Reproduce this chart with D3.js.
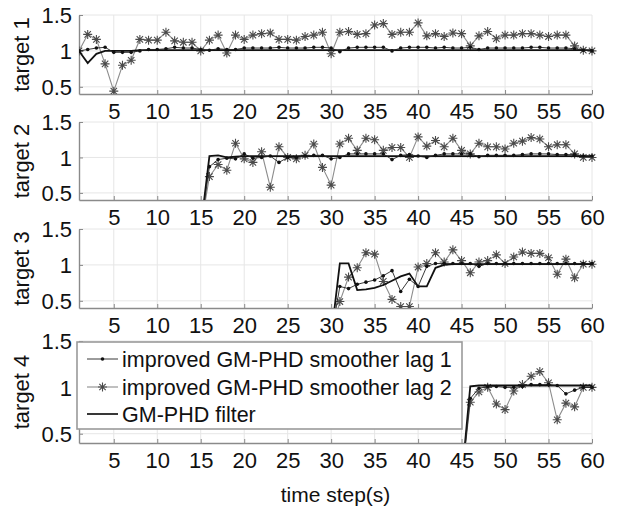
<!DOCTYPE html>
<html>
<head>
<meta charset="utf-8">
<script src="https://cdn.jsdelivr.net/npm/d3@7"></script>
<style>
  body { margin: 0; background: #fff; }
  text { font-family: "Liberation Sans", Arial, sans-serif; fill: #111; }
</style>
</head>
<body>
<div id="chart"></div>
<script>
// ---- data ----
const xTicks = [5, 10, 15, 20, 25, 30, 35, 40, 45, 50, 55, 60];
const yTicks = [0.5, 1, 1.5];
const legendNames = ["improved GM-PHD smoother lag 1", "improved GM-PHD smoother lag 2", "GM-PHD filter"];
const targetNames = ["target 1", "target 2", "target 3", "target 4"];

// first time step of each target's series
const targetStart = [1, 15, 30, 45];

const t1Lag1 = [1.0,1.02,1.04,1.05,0.98,0.98,0.98,1.0,1.02,1.02, 1.03,1.05,1.04,1.04,1.02,1.01,1.03,1.02,1.02,1.04,
  1.04,1.04,1.04,1.05,1.04,1.04,1.04,1.05,1.05,1.04, 0.99,1.04,1.05,1.05,1.05,1.05,1.0,1.04,1.05,1.05,
  1.05,1.04,1.05,1.04,1.04,1.05,1.02,1.04,1.04,1.04, 1.04,1.04,1.05,1.05,1.04,1.04,1.04,1.03,1.01,1.0];
const t1Lag2 = [1.0,1.23,1.16,0.82,0.44,0.80,0.87,1.16,1.15,1.15, 1.26,1.14,1.12,1.12,1.0,1.15,1.22,0.97,1.22,1.16,
  1.22,1.24,1.25,1.16,1.16,1.15,1.20,1.22,1.26,0.96, 1.26,1.27,1.23,1.24,1.36,1.38,1.23,1.26,1.26,1.39,
  1.21,1.24,1.20,1.25,1.24,1.07,1.21,1.27,1.17,1.22, 1.22,1.24,1.24,1.22,1.20,1.22,1.22,1.07,1.01,1.0];
const t1Filt = [1.0,0.83,0.96,1.0,1.0,1.0,1.0,1.01,1.01,1.01, 1.01,1.01,1.01,1.01,1.01,1.01,1.01,1.01,1.01,1.01,
  1.01,1.01,1.01,1.01,1.01,1.01,1.01,1.01,1.01,1.01, 1.01,1.01,1.01,1.01,1.01,1.01,1.01,1.01,1.01,1.01,
  1.01,1.01,1.01,1.01,1.01,1.01,1.01,1.01,1.01,1.01, 1.01,1.01,1.01,1.01,1.01,1.01,1.01,1.01,1.01,1.01];

const t2Lag1 = [0, 0.87,0.97,0.99,0.98,1.05,0.99,1.0,1.02,0.93,1.0, 1.0,1.02,1.03,1.03,0.98,1.0,1.05,1.05,1.05,1.05,
  1.05,0.97,1.03,1.04,1.02,1.0,1.03,1.05,1.05,1.05, 1.05,1.01,1.03,1.03,1.03,1.03,1.04,1.05,1.05,1.05,
  1.04,1.04,1.04,1.02,1.02];
const t2Lag2 = [0, 0.73,0.90,0.82,1.20,0.98,0.93,1.08,0.58,1.15,1.00, 0.98,1.03,1.19,0.86,0.61,1.19,1.27,1.10,1.27,1.25,
  1.10,1.14,1.14,1.0,1.29,1.16,1.24,1.15,1.27,1.10, 1.05,1.20,1.15,1.15,1.12,1.20,1.23,1.28,1.26,1.15,
  1.18,1.18,1.05,1.0,1.0];
const t2Filt = [0, 1.02,1.03,1.0,1.01,1.02,1.02,1.02,1.02,1.02,1.02, 1.02,1.02,1.02,1.02,1.02,1.02,1.02,1.02,1.02,1.02,
  1.02,1.02,1.02,1.02,1.02,1.02,1.02,1.02,1.02,1.02, 1.02,1.02,1.02,1.02,1.02,1.02,1.02,1.02,1.02,1.02,
  1.02,1.02,1.02,1.02,1.02];

const t3Lag1 = [0, 0.70,0.67,0.73,0.76,0.79,0.85,0.92,0.63,0.80,0.70, 0.98,1.02,1.02,1.02,1.02,1.02,0.98,1.02,1.02,1.02,
  1.02,1.02,1.02,1.02,1.02,1.02,1.02,1.02,1.02,1.02];
const t3Lag2 = [0, 0.49,0.83,0.96,1.17,1.15,0.77,0.52,0.42,0.42,0.97, 1.02,1.17,1.04,1.21,1.06,0.89,1.04,1.06,1.14,1.02,
  1.11,1.18,1.16,1.16,1.10,0.87,1.08,0.82,1.01,1.01];
const t3Filt = [0, 1.02,1.02,0.65,0.66,0.68,0.72,0.78,0.84,0.88,0.70, 0.70,0.96,1.0,1.01,1.01,1.01,1.01,1.01,1.01,1.01,
  1.01,1.01,1.01,1.01,1.01,1.01,1.01,1.01,1.01,1.01];

const t4Lag1 = [0, 0.88,0.99,1.01,1.01,1.0,1.0,1.01,1.03,1.03,1.03, 1.02,0.93,0.97,1.0,1.0];
const t4Lag2 = [0, 0.84,0.95,1.0,0.82,0.76,0.96,1.03,1.12,1.17,1.05, 0.65,0.83,0.79,1.0,1.0];
const t4Filt = [0, 1.01,1.02,1.02,1.02,1.02,1.02,1.02,1.02,1.02,1.02, 1.02,1.02,1.02,1.02,1.02];

const lag1Data = [t1Lag1, t2Lag1, t3Lag1, t4Lag1];
const lag2Data = [t1Lag2, t2Lag2, t3Lag2, t4Lag2];
const filtData = [t1Filt, t2Filt, t3Filt, t4Filt];

// ---- layout ----
const width = 620, height = 511;
const left = 79, right = 592;
const panels = [
  { top: 15,  bottom: 94 },
  { top: 122, bottom: 200 },
  { top: 229, bottom: 308 },
  { top: 341, bottom: 443 }
];

const svg = d3.select("#chart").append("svg")
  .attr("width", width)
  .attr("height", height);

const x = d3.scaleLinear().domain([1, 60]).range([left, right]);

const starPath = "M-4.5,0H4.5M0,-4.5V4.5M-3.2,-3.2L3.2,3.2M-3.2,3.2L3.2,-3.2";

function toPoints(arr, start) {
  return arr.map((v, i) => ({ k: start + i, v: v }));
}

panels.forEach((p, idx) => {
  const y = d3.scaleLinear().domain([0.4, 1.5]).range([p.bottom, p.top]);
  const g = svg.append("g");

  // grid
  g.append("g").selectAll("line").data(xTicks).enter().append("line")
    .attr("x1", d => x(d)).attr("x2", d => x(d))
    .attr("y1", p.top).attr("y2", p.bottom)
    .attr("stroke", "#e6e6e6").attr("stroke-width", 1);
  g.append("g").selectAll("line").data(yTicks).enter().append("line")
    .attr("x1", left).attr("x2", right)
    .attr("y1", d => y(d)).attr("y2", d => y(d))
    .attr("stroke", "#e6e6e6").attr("stroke-width", 1);

  // axes
  const xAxis = g.append("g")
    .attr("transform", `translate(0,${p.bottom})`)
    .call(d3.axisBottom(x).tickValues(xTicks).tickSizeInner(-4).tickSizeOuter(0).tickPadding(9));
  const yAxis = g.append("g")
    .attr("transform", `translate(${left},0)`)
    .call(d3.axisLeft(y).tickValues(yTicks).tickSizeInner(-4).tickSizeOuter(0).tickPadding(7)
      .tickFormat(d3.format("")));
  [xAxis, yAxis].forEach(a => {
    a.select(".domain").attr("stroke", "#8a8a8a").attr("stroke-width", 1.4);
    a.selectAll(".tick line").attr("stroke", "#8a8a8a");
    a.selectAll("text").style("font-size", "22px").attr("fill", "#111");
  });
  yAxis.selectAll("text").attr("dy", "0.36em");

  // y title
  svg.append("text")
    .attr("transform", `translate(29,${(p.top + p.bottom) / 2}) rotate(-90)`)
    .attr("text-anchor", "middle")
    .style("font-size", "22px")
    .text(targetNames[idx]);

  // clip
  svg.append("clipPath").attr("id", "clip" + idx)
    .append("rect").attr("x", left).attr("y", p.top - 6)
    .attr("width", right - left + 6).attr("height", p.bottom - p.top + 6);
  const plot = g.append("g").attr("clip-path", `url(#clip${idx})`);

  const line = d3.line().x(d => x(d.k)).y(d => y(d.v));
  const s = targetStart[idx];
  const lag1 = toPoints(lag1Data[idx], s);
  const lag2 = toPoints(lag2Data[idx], s);
  const filt = toPoints(filtData[idx], s);

  // lag 2: gray line with asterisks
  plot.append("path").datum(lag2).attr("d", line)
    .attr("fill", "none").attr("stroke", "#8c8c8c").attr("stroke-width", 1.1);
  plot.append("g").selectAll("path").data(lag2).enter().append("path")
    .attr("transform", d => `translate(${x(d.k)},${y(d.v)})`)
    .attr("d", starPath)
    .attr("stroke", "#4a4a4a").attr("stroke-width", 1.1).attr("fill", "none");

  // filter: thick black line
  plot.append("path").datum(filt).attr("d", line)
    .attr("fill", "none").attr("stroke", "#111").attr("stroke-width", 1.8);

  // lag 1: thin black line with dots
  plot.append("path").datum(lag1).attr("d", line)
    .attr("fill", "none").attr("stroke", "#222").attr("stroke-width", 0.9);
  plot.append("g").selectAll("circle").data(lag1).enter().append("circle")
    .attr("cx", d => x(d.k)).attr("cy", d => y(d.v))
    .attr("r", 1.8).attr("fill", "#111");
});

// x title
svg.append("text")
  .attr("x", (left + right) / 2).attr("y", 502)
  .attr("text-anchor", "middle")
  .style("font-size", "21px")
  .text("time step(s)");

// legend
const leg = svg.append("g");
leg.append("rect")
  .attr("x", 77).attr("y", 342).attr("width", 385).attr("height", 87)
  .attr("fill", "#fff").attr("stroke", "#9a9a9a").attr("stroke-width", 1.6);
const rows = [359, 387, 414];
legendNames.forEach((name, i) => {
  const yy = rows[i];
  leg.append("line").attr("x1", 87).attr("x2", 118).attr("y1", yy).attr("y2", yy)
    .attr("stroke", i === 1 ? "#8c8c8c" : "#222")
    .attr("stroke-width", i === 2 ? 1.8 : (i === 1 ? 1.1 : 0.9));
  if (i === 0) {
    leg.append("circle").attr("cx", 102.5).attr("cy", yy).attr("r", 1.8).attr("fill", "#111");
  } else if (i === 1) {
    leg.append("path").attr("transform", `translate(102.5,${yy})`).attr("d", starPath)
      .attr("stroke", "#4a4a4a").attr("stroke-width", 1.1).attr("fill", "none");
  }
  leg.append("text").attr("x", 122).attr("y", yy).attr("dy", "0.36em")
    .style("font-size", "21.5px")
    .text(name);
});
</script>
</body>
</html>
